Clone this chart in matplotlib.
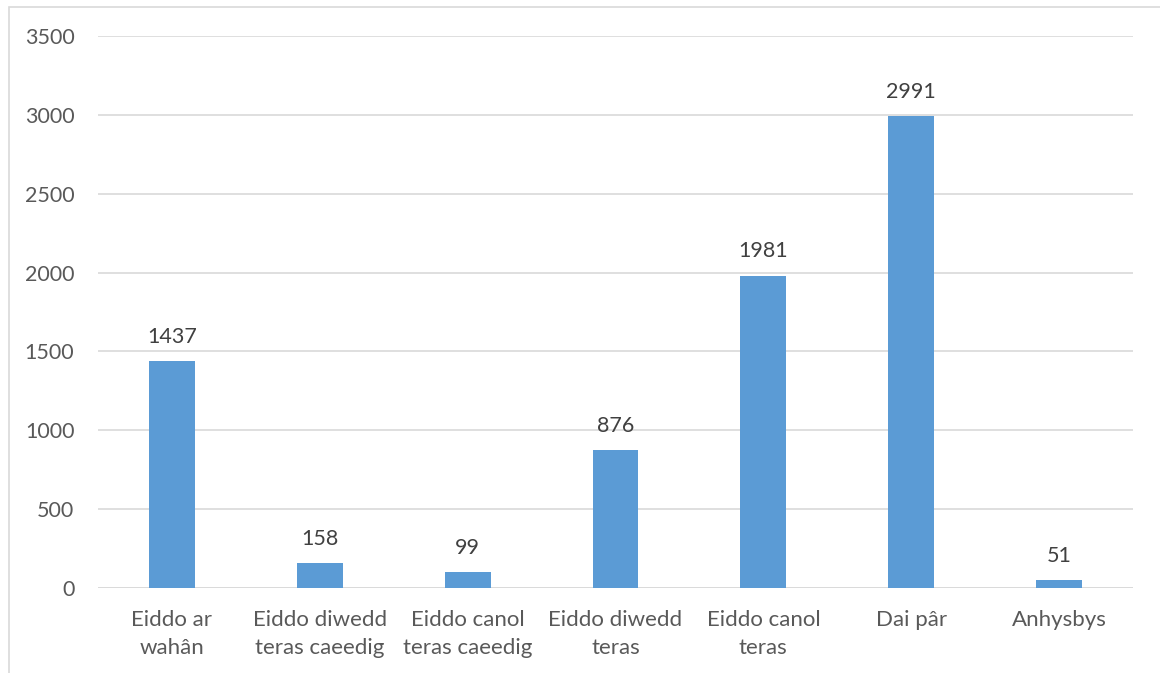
import matplotlib.pyplot as plt
from matplotlib.patches import Rectangle

plt.rcParams['font.family'] = ['Lato', 'DejaVu Sans']

categories = ['Eiddo ar\nwahân', 'Eiddo diwedd\nteras caeedig', 'Eiddo canol\nteras caeedig',
              'Eiddo diwedd\nteras', 'Eiddo canol\nteras', 'Dai pâr', 'Anhysbys']
values = [1437, 158, 99, 876, 1981, 2991, 51]
yticks = [0, 500, 1000, 1500, 2000, 2500, 3000, 3500]

txt = '#595959'
fig = plt.figure(figsize=(11.6, 6.73), dpi=100)
ax = fig.add_axes([98/1160, 1-588/673, (1133-98)/1160, (588-36)/673])

x = range(len(categories))
bars = ax.bar(x, values, width=0.31, color='#5B9BD5', zorder=3)
for b, v in zip(bars, values):
    ax.text(b.get_x() + b.get_width()/2, v + 90, str(v), ha='center', va='bottom',
            fontsize=15.5, color='#404040')

ax.set_xlim(-0.5, len(categories) - 0.5)
ax.set_ylim(0, 3500)
ax.set_yticks(yticks)
ax.set_yticklabels([str(t) for t in yticks], fontsize=15.5, color=txt)
ax.set_xticks(list(x))
ax.set_xticklabels(categories, fontsize=16, color=txt, linespacing=1.5)
ax.tick_params(length=0)
ax.tick_params(axis='x', pad=16)
ax.tick_params(axis='y', pad=17)
ax.grid(axis='y', color='#D9D9D9', linewidth=1.2, zorder=0)
for s in ax.spines.values():
    s.set_visible(False)
ax.axhline(0, color='#D9D9D9', linewidth=1.2, zorder=2)

fig.patches.append(Rectangle((9/1160, -0.1), 1.2, 1-7/673+0.1, transform=fig.transFigure,
                             fill=False, edgecolor='#D9D9D9', linewidth=1.2))

fig.savefig('out.png', dpi=100)
